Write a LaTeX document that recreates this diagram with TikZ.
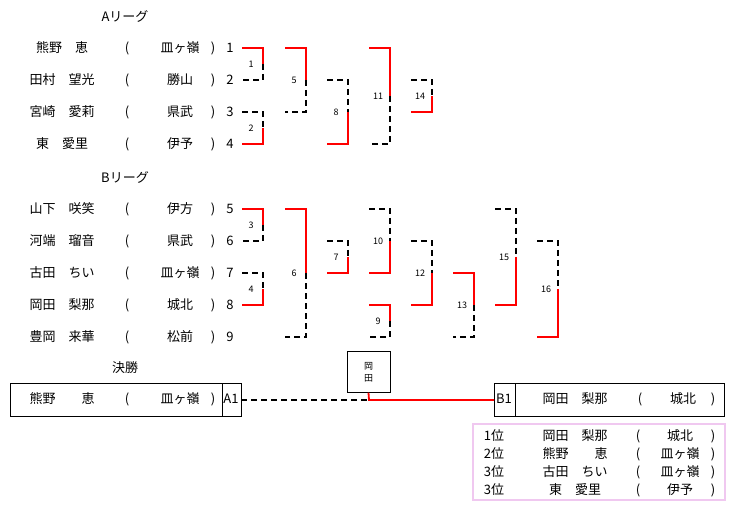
\documentclass[tikz,border=0pt]{standalone}
\usepackage{fontspec}
\setmainfont{Noto Sans CJK JP}
\tikzset{
  win/.style={red,line width=1.8pt},
  lose/.style={black,line width=1.4pt,dash pattern=on 6pt off 4pt},
  lbl/.style={font=\fontsize{9}{10}\selectfont,inner sep=1pt},
  txt/.style={font=\fontsize{13}{15}\selectfont,inner sep=0pt},
}
\begin{document}
\begin{tikzpicture}[x=1pt,y=-1pt]
\useasboundingbox (0,0) rectangle (735,510);
\node[txt] (hA) at (125,16) {Aリーグ};
\node[txt] (hB) at (125,177) {Bリーグ};
\node[txt] (hF) at (125,368) {決勝};
% players
\foreach \n/\y/\p/\s in {1/48/熊野　恵/皿ヶ嶺,2/80/田村　望光/勝山,3/112/宮崎　愛莉/県武,4/144/東　愛里/伊予,
  5/209/山下　咲笑/伊方,6/241/河端　瑠音/県武,7/273/古田　ちい/皿ヶ嶺,8/305/岡田　梨那/城北,9/337/豊岡　来華/松前}{
  \node[txt] (p\n) at (62,\y) {\p};
  \node[txt] (s\n) at (180,\y) {\s};
  \node[txt] at (127,\y) {(};
  \node[txt] at (213,\y) {)};
  \node[txt] (n\n) at (230,\y) {\n};
}
% matches
\foreach \x/\a/\b/\t/\u/\l in {242/48/80/win/lose/1,242/112/144/lose/win/2,285/48/112/win/lose/5,
  327/80/144/lose/win/8,369/48/144/win/lose/11,411/80/112/lose/win/14,
  242/209/241/win/lose/3,242/273/305/lose/win/4,285/209/337/win/lose/6,327/241/273/lose/win/7,
  369/209/273/lose/win/10,369/305/337/win/lose/9,411/241/305/lose/win/12,453/273/337/win/lose/13,
  495/209/305/lose/win/15,537/241/337/lose/win/16}{
  \pgfmathsetmacro\m{(\a+\b)/2}
  \draw[\t] (\x,\a) -- (\x+21,\a) -- (\x+21,\m);
  \draw[\u] (\x+21,\m) -- (\x+21,\b) -- (\x,\b);
  \node[lbl] (m\l) at (\x+9,\m) {\l};
}
% final
\draw (10,383) rectangle (241,416) (222,383) -- (222,416);
\node[txt] (fa) at (62,399) {熊野　　恵};
\node[txt] at (127,399) {(};
\node[txt] at (180,399) {皿ヶ嶺};
\node[txt] at (213,399) {)};
\node[txt] (a1) at (231,399) {A1};
\draw (494,383) rectangle (724,416) (515,383) -- (515,416);
\node[txt] (b1) at (504,399) {B1};
\node[txt] (fb) at (575,399) {岡田　梨那};
\node[txt] at (640,399) {(};
\node[txt] at (683,399) {城北};
\node[txt] at (713,399) {)};
\node[draw,minimum width=43pt,minimum height=41pt,font=\fontsize{9}{12}\selectfont,align=center] (ch) at (368.5,372) {岡\\田};
\draw[lose] (241,400) -- (369,400);
\draw[win] (ch.south) -- (369,400) -- (494,400);
% ranking
\draw[draw={rgb,255:red,240;green,200;blue,240},line width=2pt] (473,424) rectangle (725,500);
\foreach \r/\y/\p/\s in {1位/436/岡田　梨那/城北,2位/454/熊野　　恵/皿ヶ嶺,3位/472/古田　ちい/皿ヶ嶺,3位/490/東　愛里/伊予}{
  \node[txt] at (494,\y) {\r};
  \node[txt] at (575,\y) {\p};
  \node[txt] at (638,\y) {(};
  \node[txt] at (680,\y) {\s};
  \node[txt] at (713,\y) {)};
}
\end{tikzpicture}
\end{document}
